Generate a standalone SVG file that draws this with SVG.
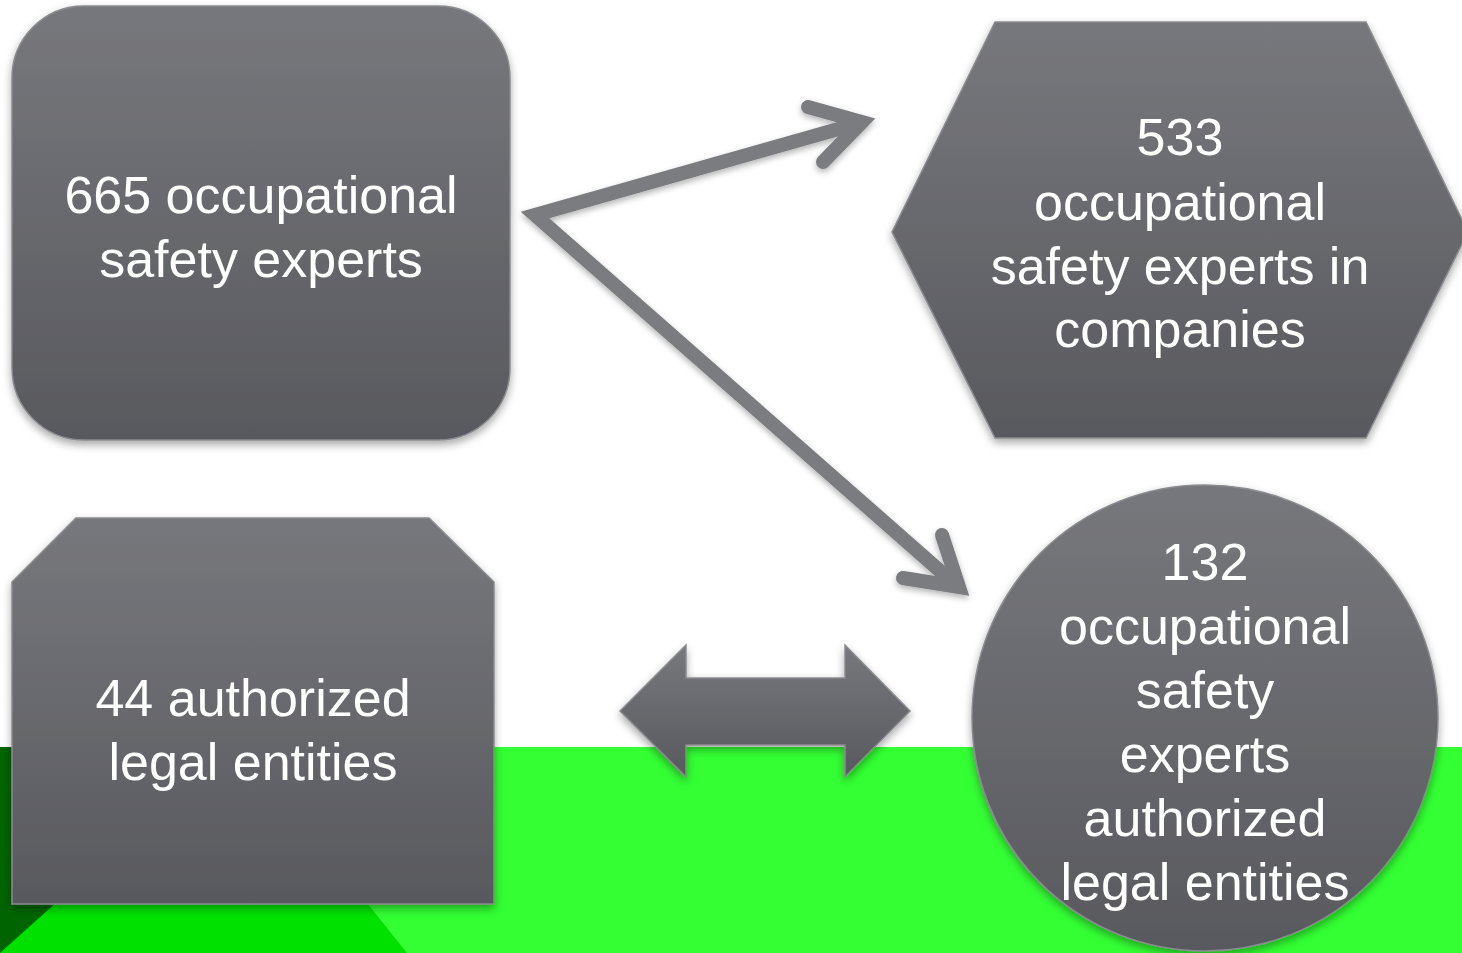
<svg xmlns="http://www.w3.org/2000/svg" width="1462" height="953" viewBox="0 0 1462 953">
  <defs>
    <linearGradient id="g" x1="0" y1="0" x2="0" y2="1">
      <stop offset="0" stop-color="#77787c"/>
      <stop offset="1" stop-color="#58595e"/>
    </linearGradient>
    <filter id="sh" x="-10%" y="-10%" width="120%" height="125%">
      <feDropShadow dx="0" dy="4" stdDeviation="4" flood-color="#000" flood-opacity="0.35"/>
    </filter>
    <filter id="shc" filterUnits="userSpaceOnUse" x="0" y="0" width="1462" height="953">
      <feDropShadow dx="0" dy="3" stdDeviation="3" flood-color="#000" flood-opacity="0.3"/>
    </filter>
    <style>
      .node { fill: url(#g); stroke: #8a8b8f; stroke-width: 1.5; filter: url(#sh); }
      .lbl { fill: #ffffff; font-family: "Liberation Sans", Arial, sans-serif; font-size: 52px; text-anchor: middle; }
      .conn { fill: none; stroke: #7a7b7f; stroke-width: 14; stroke-linecap: round; stroke-linejoin: miter; stroke-miterlimit: 10; }
    </style>
  </defs>

  <!-- background -->
  <rect x="0" y="0" width="1462" height="953" fill="#ffffff"/>
  <rect x="0" y="747" width="1462" height="206" fill="#33ff33"/>
  <polygon points="0,747 242,747 407,953 0,953" fill="#00e100"/>
  <polygon points="0,747 230,747 0,953" fill="#006400"/>

  <g id="connectors">
    <g filter="url(#shc)">
      <polyline class="conn" points="856,124 535,215 956,585"/>
      <polyline class="conn" points="808,107 862,122 823,162"/>
      <polyline class="conn" points="942,535 959,587 903,578"/>
    </g>
    <path id="double-arrow" class="node" d="M620,711 L686,645 L686,678 L845,678 L845,645 L910,711 L845,777 L845,745 L686,745 L686,777 Z"/>
  </g>

  <g id="node-665">
    <rect class="node" x="12" y="6" width="498" height="434" rx="72" ry="72"/>
    <text class="lbl" x="261" y="213">665 occupational</text>
    <text class="lbl" x="261" y="277">safety experts</text>
  </g>

  <g id="node-533">
    <polygon class="node" points="995,22 1366,22 1468,232 1366,438 995,438 892,232"/>
    <text class="lbl" x="1180" y="155">533</text>
    <text class="lbl" x="1180" y="220">occupational</text>
    <text class="lbl" x="1180" y="284">safety experts in</text>
    <text class="lbl" x="1180" y="347">companies</text>
  </g>

  <g id="node-44">
    <polygon class="node" points="76,518 429,518 494,582 494,904 12,904 12,582"/>
    <text class="lbl" x="253" y="716">44 authorized</text>
    <text class="lbl" x="253" y="780">legal entities</text>
  </g>

  <g id="node-132">
    <circle class="node" cx="1205" cy="718" r="233"/>
    <text class="lbl" x="1205" y="580">132</text>
    <text class="lbl" x="1205" y="644">occupational</text>
    <text class="lbl" x="1205" y="708">safety</text>
    <text class="lbl" x="1205" y="772">experts</text>
    <text class="lbl" x="1205" y="836">authorized</text>
    <text class="lbl" x="1205" y="900">legal entities</text>
  </g>
</svg>
